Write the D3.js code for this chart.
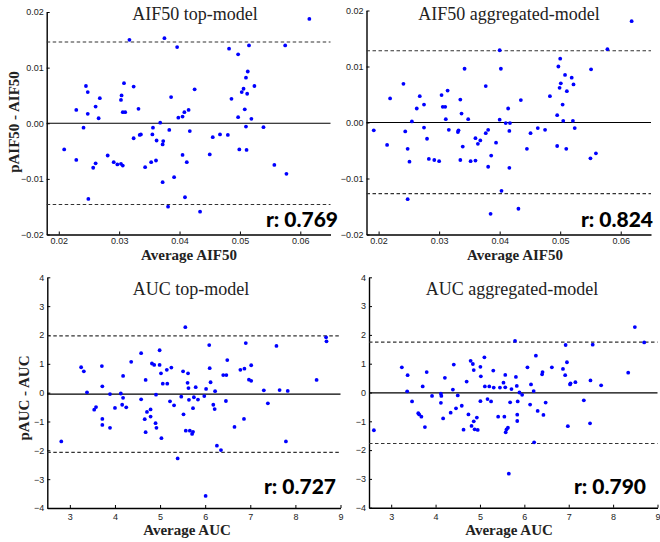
<!DOCTYPE html>
<html><head><meta charset="utf-8">
<script src="https://cdn.jsdelivr.net/npm/d3@7"></script>
<style>
html,body{margin:0;padding:0;background:#fff;}
svg{display:block;}
</style></head>
<body>
<svg id="chart" width="660" height="542"></svg>
<script>
// ---------- DATA ----------
const titles = ["AIF50 top-model", "AIF50 aggregated-model", "AUC top-model", "AUC aggregated-model"];
const xLabels = ["Average AIF50", "Average AIF50", "Average AUC", "Average AUC"];
const yLabels = ["pAIF50 - AIF50", null, "pAUC - AUC", null];
const rLabels = ["r: 0.769", "r: 0.824", "r: 0.727", "r: 0.790"];
const meanDiff = [0, 0, -0.05, -0.01];
const upperLoA = [0.0146, 0.0128, 1.97, 1.75];
const lowerLoA = [-0.0146, -0.0127, -2.07, -1.77];
const aifXTicks = [0.02, 0.03, 0.04, 0.05, 0.06];
const aifYTicks = [-0.02, -0.01, 0, 0.01, 0.02];
const aucXTicks = [3, 4, 5, 6, 7, 8, 9];
const aucYTicks = [-4, -3, -2, -1, 0, 1, 2, 3, 4];

const aifTopX = [0.0615,0.0317,0.0375,0.0396,0.0482,0.0515,0.0575,0.0497,0.0513,0.0510,0.0308,0.0245,0.0324,0.0524,0.0425,0.0506,0.0503,0.0248,0.0512,0.0304,0.0386,0.0268,0.0486,0.0303,0.0261,0.0332,0.0229,0.0415,0.0508,0.0408,0.0306,0.0310,0.0248,0.0405,0.0398,0.0497,0.0266,0.0519,0.0368,0.0510,0.0241,0.0356,0.0539,0.0383,0.0417,0.0336,0.0334,0.0355,0.0467,0.0480,0.0455,0.0324,0.0362,0.0373,0.0372,0.0209,0.0499,0.0511,0.0405,0.0450,0.0281,0.0229,0.0361,0.0291,0.0353,0.0412,0.0261,0.0297,0.0303,0.0306,0.0557,0.0257,0.0343,0.0577,0.0391,0.0372,0.0409,0.0249,0.0381,0.0434];
const aifTopY = [0.01875,0.0150,0.0153,0.0137,0.0134,0.0140,0.0140,0.0124,0.0093,0.0082,0.0072,0.0067,0.0066,0.0067,0.0061,0.0062,0.0056,0.0056,0.0053,0.0050,0.0047,0.0045,0.0044,0.0042,0.0030,0.0026,0.0024,0.0024,0.0025,0.0020,0.0020,0.0020,0.0017,0.0012,0.0010,0.0011,0.0009,0.0008,0.0001,-0.0006,-0.0008,-0.0008,-0.0007,-0.0012,-0.0014,-0.0020,-0.0021,-0.0020,-0.0020,-0.0021,-0.0025,-0.0027,-0.0031,-0.0032,-0.0038,-0.0047,-0.0047,-0.0048,-0.0057,-0.0056,-0.0058,-0.0066,-0.0067,-0.0070,-0.0070,-0.0070,-0.0072,-0.0074,-0.0073,-0.0076,-0.0075,-0.0080,-0.0079,-0.0091,-0.0097,-0.0106,-0.0133,-0.0136,-0.0150,-0.0159];

const aifAggX = [0.0618,0.0578,0.0400,0.0500,0.0497,0.0342,0.0402,0.0551,0.0508,0.0519,0.0241,0.0501,0.0522,0.0377,0.0499,0.0314,0.0511,0.0268,0.0304,0.0483,0.0219,0.0335,0.0435,0.0275,0.0504,0.0306,0.0310,0.0263,0.0414,0.0337,0.0495,0.0311,0.0348,0.0400,0.0255,0.0505,0.0521,0.0410,0.0417,0.0275,0.0463,0.0524,0.0192,0.0244,0.0316,0.0332,0.0331,0.0381,0.0377,0.0416,0.0451,0.0475,0.0280,0.0360,0.0368,0.0364,0.0394,0.0214,0.0339,0.0495,0.0248,0.0445,0.0510,0.0559,0.0386,0.0550,0.0283,0.0292,0.0335,0.0360,0.0251,0.0300,0.0352,0.0381,0.0416,0.0403,0.0248,0.0431,0.0385];
const aifAggY = [0.0181,0.0131,0.0129,0.0114,0.0100,0.0096,0.0096,0.0095,0.0085,0.0080,0.0069,0.0070,0.0068,0.0065,0.0062,0.0057,0.0056,0.0047,0.0049,0.0047,0.0043,0.0041,0.0040,0.0032,0.0032,0.0028,0.0028,0.0025,0.0025,0.0016,0.0013,0.0006,0.0006,0.0005,0.0002,0.0003,0.0003,-0.0001,-0.0001,-0.0009,-0.0010,-0.0010,-0.0014,-0.0016,-0.0013,-0.0014,-0.0017,-0.0013,-0.0019,-0.0015,-0.0019,-0.0013,-0.0029,-0.0028,-0.0032,-0.0038,-0.0036,-0.0040,-0.0043,-0.0042,-0.0047,-0.0047,-0.0047,-0.0055,-0.0059,-0.0064,-0.0065,-0.0067,-0.0067,-0.0068,-0.0070,-0.0069,-0.0069,-0.0079,-0.0081,-0.0122,-0.0137,-0.0154,-0.0163];

const aucTopX = [5.56,3.25,3.31,3.38,3.71,3.72,3.54,3.58,3.72,3.72,3.89,3.89,2.81,4.00,4.13,4.18,4.18,4.16,4.25,4.36,4.58,4.58,4.68,4.71,4.79,4.79,4.66,4.68,4.82,4.87,4.99,4.99,4.91,4.90,4.92,5.02,5.03,5.06,5.16,5.15,5.25,5.22,5.31,5.39,5.47,5.51,5.52,5.62,5.61,5.63,5.64,5.57,5.66,5.73,5.71,5.73,5.75,5.79,6.09,6.90,7.58,8.68,8.69,6.49,6.10,6.78,6.87,7.02,6.40,6.47,6.97,7.02,6.12,8.47,6.02,6.22,7.30,7.65,7.83,5.98,5.84,6.46,6.18,6.21,7.39,6.86,6.65,7.79,6.26,6.35,6.01];
const aucTopY = [2.27,0.88,0.74,0.01,0.92,0.22,-0.59,-0.50,-0.91,-1.12,-1.22,-0.05,-1.69,-0.53,-0.03,0.58,-0.18,-0.42,-0.51,1.07,1.37,-0.23,0.44,-0.67,-0.58,-0.83,-0.92,-1.37,1.01,0.96,1.47,0.96,-0.07,-1.06,-1.22,0.67,-1.58,0.31,0.31,0.79,0.87,-0.30,-0.44,-2.28,-0.14,0.74,-0.75,0.67,0.34,0.16,-0.25,-1.32,-1.32,-1.36,-1.43,-0.54,-0.16,0.19,1.65,1.72,1.62,1.92,1.78,1.13,0.85,0.79,0.83,0.95,0.61,0.61,0.45,0.41,0.36,0.44,0.13,0.05,0.08,0.09,0.06,-0.12,-0.24,-0.29,-0.42,-0.57,-0.37,-0.91,-1.19,-1.69,-1.84,-1.99,-3.58];

const aucAggX = [2.61,3.24,3.37,3.36,3.47,3.61,3.63,3.68,3.71,3.76,3.80,3.92,4.12,4.13,4.12,4.17,4.21,4.34,4.39,4.41,4.46,4.50,4.59,4.63,4.70,4.74,4.79,4.84,4.86,4.81,4.86,4.88,4.93,4.95,5.01,5.02,5.01,5.10,5.11,5.17,5.21,5.25,5.30,5.31,5.41,5.45,5.53,5.55,5.57,5.57,5.58,5.60,5.63,5.65,5.68,5.71,5.79,5.81,5.84,5.84,5.83,5.85,5.89,5.95,6.07,6.15,6.21,6.13,6.22,6.26,6.30,6.40,6.41,6.43,6.48,6.62,6.87,6.93,6.96,6.92,6.98,7.03,7.04,7.15,7.34,7.49,7.48,7.54,7.73,8.34,8.49,8.70];
const aucAggY = [-1.31,0.875,0.60,0.04,-0.31,-0.72,-0.76,-0.84,0.21,-1.20,0.71,-0.12,-0.04,-0.12,-0.36,-0.90,0.51,-0.70,0.10,0.97,-0.55,-0.10,-0.46,-1.29,0.38,-0.76,1.10,0.99,0.78,-1.16,-1.00,-1.28,-0.87,-1.30,0.89,0.56,-0.30,1.22,0.21,-0.23,0.21,-0.31,0.76,0.17,-0.84,0.17,0.34,-0.84,0.61,0.18,-1.38,-1.28,-1.22,-2.82,-0.34,0.12,1.79,0.54,-0.77,-0.99,0.23,-0.31,0.0,-0.08,0.875,0.28,0.05,-0.42,-1.73,1.28,-0.64,0.63,0.71,-0.78,-0.35,0.875,0.82,1.65,1.05,0.60,-1.17,0.28,0.32,0.36,-0.27,0.42,-1.07,1.66,0.25,0.69,2.27,1.74];

const seriesX = [aifTopX, aifAggX, aucTopX, aucAggX];
const seriesY = [aifTopY, aifAggY, aucTopY, aucAggY];

// ---------- LAYOUT ----------
const panels = [
  {xd:[0.018,0.065], xr:[46.7,330.5], yd:[-0.02,0.02], yr:[234.5,12],  xt:aifXTicks, yt:aifYTicks, fmt:d3.format(".2f"),
   title:[195,20], xl:[189,260], yl:[19,122], r:[338,226.5], xpad:2.8},
  {xd:[0.018,0.065], xr:[366.5,651], yd:[-0.02,0.02], yr:[234.5,10.5], xt:aifXTicks, yt:aifYTicks, fmt:d3.format(".2f"),
   title:[509,20], xl:[515,260], yl:null, r:[653,226.5], xpad:2.8},
  {xd:[2.5,9], xr:[47.3,340.5], yd:[-4,4], yr:[508,277.3], xt:aucXTicks, yt:aucYTicks, fmt:d3.format("d"),
   title:[191,295], xl:[187,535], yl:[29,398], r:[336,494], xpad:6},
  {xd:[2.5,9], xr:[369,657.5], yd:[-4,4], yr:[507.7,277.3], xt:aucXTicks, yt:aucYTicks, fmt:d3.format("d"),
   title:[512,295], xl:[509,535], yl:null, r:[646,493.5], xpad:6}
];

const svg = d3.select("#chart");

panels.forEach((p, i) => {
  const x = d3.scaleLinear().domain(p.xd).range(p.xr);
  const y = d3.scaleLinear().domain(p.yd).range(p.yr);
  const g = svg.append("g");

  const ax = g.append("g").attr("transform", `translate(0,${p.yr[0]})`)
    .call(d3.axisBottom(x).tickValues(p.xt).tickFormat(p.fmt).tickSizeInner(-3).tickSizeOuter(0).tickPadding(p.xpad));
  const ay = g.append("g").attr("transform", `translate(${p.xr[0]},0)`)
    .call(d3.axisLeft(y).tickValues(p.yt).tickFormat(p.fmt).tickSizeInner(-3).tickSizeOuter(0).tickPadding(3));
  [ax, ay].forEach(a => {
    a.select(".domain").attr("stroke", "#000").attr("stroke-width", 1.4);
    a.selectAll(".tick line").attr("stroke", "#000");
    a.selectAll(".tick text").attr("fill", "#222").style("font-family", "Liberation Sans, Arial, sans-serif").style("font-size", "9px");
  });

  g.append("line").attr("x1", p.xr[0]).attr("x2", p.xr[1])
    .attr("y1", y(meanDiff[i])).attr("y2", y(meanDiff[i]))
    .attr("stroke", "#000").attr("stroke-width", 1.2);
  [upperLoA[i], lowerLoA[i]].forEach(v => {
    g.append("line").attr("x1", p.xr[0]).attr("x2", p.xr[1])
      .attr("y1", y(v)).attr("y2", y(v))
      .attr("stroke", "#333").attr("stroke-width", 1.1).attr("stroke-dasharray", "3.5,2.5");
  });

  g.append("g").selectAll("circle").data(d3.range(seriesX[i].length)).join("circle")
    .attr("cx", k => x(seriesX[i][k])).attr("cy", k => y(seriesY[i][k]))
    .attr("r", 1.9).attr("fill", "#0000ff");

  g.append("text").attr("x", p.title[0]).attr("y", p.title[1]).attr("text-anchor", "middle")
    .style("font-family", "Liberation Serif, Times New Roman, serif").style("font-size", "18px").attr("fill", "#222")
    .text(titles[i]);
  g.append("text").attr("x", p.xl[0]).attr("y", p.xl[1]).attr("text-anchor", "middle")
    .style("font-family", "Liberation Serif, Times New Roman, serif").style("font-size", "15px").style("font-weight", "bold").attr("fill", "#222")
    .text(xLabels[i]);
  if (yLabels[i]) {
    g.append("text").attr("transform", `translate(${p.yl[0]},${p.yl[1]}) rotate(-90)`).attr("text-anchor", "middle")
      .style("font-family", "Liberation Serif, Times New Roman, serif").style("font-size", "15px").style("font-weight", "bold").attr("fill", "#222")
      .text(yLabels[i]);
  }
  g.append("text").attr("x", p.r[0]).attr("y", p.r[1]).attr("text-anchor", "end")
    .style("font-family", "Lato, sans-serif").style("font-size", "21px").style("font-weight", "900").attr("fill", "#000")
    .text(rLabels[i]);
});
</script>
</body></html>
